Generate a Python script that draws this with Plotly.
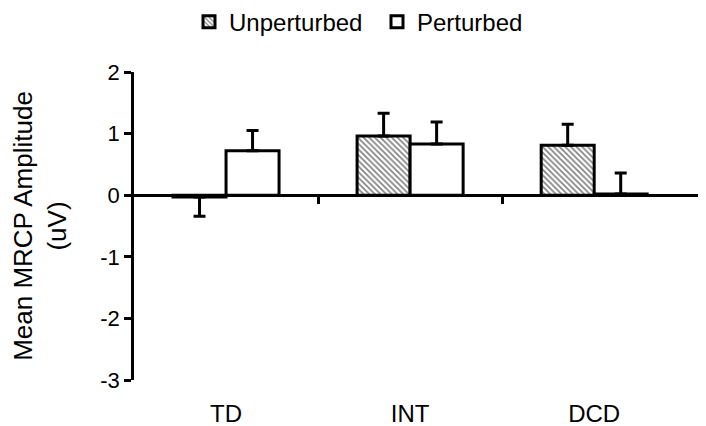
import plotly.graph_objects as go

categories = ["TD", "INT", "DCD"]
unperturbed_mean = [-0.03, 0.96, 0.81]
unperturbed_err = [0.31, 0.37, 0.34]
perturbed_mean = [0.72, 0.83, 0.02]
perturbed_err = [0.33, 0.36, 0.34]
y_ticks = [-3, -2, -1, 0, 1, 2]
y_tick_labels = ["-3", "-2", "-1", "0", "1", "2"]

FONT = "Liberation Sans, Arial, sans-serif"
xpos = list(range(len(categories)))


def err_split(means, errs):
    plus = [e if m >= 0 else 0 for m, e in zip(means, errs)]
    minus = [e if m < 0 else 0 for m, e in zip(means, errs)]
    return plus, minus


up_p, up_m = err_split(unperturbed_mean, unperturbed_err)
p_p, p_m = err_split(perturbed_mean, perturbed_err)

fig = go.Figure()
fig.add_trace(go.Bar(
    name="Unperturbed", x=xpos, y=unperturbed_mean,
    marker=dict(color="white", line=dict(color="black", width=3),
                pattern=dict(shape="\\", fgcolor="black", bgcolor="white",
                             size=4, solidity=0.4)),
    error_y=dict(type="data", array=up_p, arrayminus=up_m, symmetric=False,
                 color="black", thickness=3, width=6),
))
fig.add_trace(go.Bar(
    name="Perturbed", x=xpos, y=perturbed_mean,
    marker=dict(color="white", line=dict(color="black", width=3)),
    error_y=dict(type="data", array=p_p, arrayminus=p_m, symmetric=False,
                 color="black", thickness=3, width=6),
))
# invisible trace to host the zero-line axis with boundary ticks
fig.add_trace(go.Scatter(x=[None], y=[None], xaxis="x2", showlegend=False))

xr = [-0.5, 2.64]
fig.update_layout(
    width=706, height=426,
    margin=dict(l=126, r=2, t=64, b=54),
    paper_bgcolor="white", plot_bgcolor="white",
    barmode="group", bargap=0.424, bargroupgap=0,
    font=dict(family=FONT, color="black"),
    showlegend=True,
    legend=dict(orientation="h", x=181 / 706, xref="container", xanchor="left",
                y=0.967, yanchor="middle", yref="container",
                font=dict(size=24, family=FONT), itemwidth=30,
                entrywidth=143, entrywidthmode="pixels",
                bgcolor="rgba(0,0,0,0)"),
    xaxis=dict(range=xr, tickmode="array", tickvals=xpos, ticktext=categories,
               showline=False, showgrid=False, zeroline=False,
               ticks="outside", ticklen=12, tickcolor="rgba(0,0,0,0)",
               tickfont=dict(size=24, family=FONT)),
    xaxis2=dict(range=xr, overlaying="x", anchor="free", position=0.6,
                showline=True, linecolor="black", linewidth=2.5,
                tickmode="array", tickvals=[0.5, 1.5], ticktext=["", ""],
                ticks="outside", ticklen=7, tickwidth=2.5, tickcolor="black",
                showgrid=False, zeroline=False, showticklabels=False),
    yaxis=dict(range=[-3, 2], tickmode="array", tickvals=y_ticks,
               ticktext=y_tick_labels,
               showline=True, linecolor="black", linewidth=2.5,
               ticks="outside", ticklen=7, tickwidth=2.5, tickcolor="black",
               showgrid=False, zeroline=False,
               tickfont=dict(size=22, family=FONT),
               title=dict(text="Mean MRCP Amplitude<br>(uV)",
                          font=dict(size=26, family=FONT), standoff=29)),
)

fig.write_html("out.html")
